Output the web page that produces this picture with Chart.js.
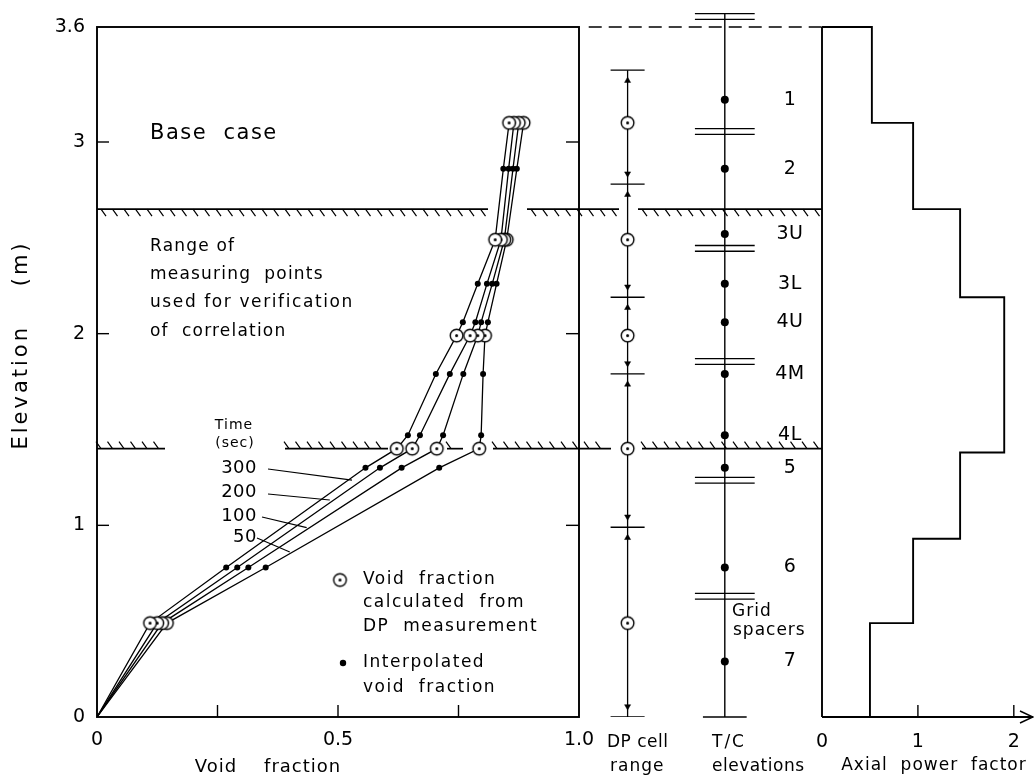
<!DOCTYPE html>
<html>
<head>
<meta charset="utf-8">
<title>Void fraction profiles – base case</title>
<script src="https://cdn.jsdelivr.net/npm/chart.js@4.4.1/dist/chart.umd.min.js"></script>
<style>
  html, body { margin: 0; padding: 0; background: #fff; }
  #figure { position: relative; width: 1034px; height: 778px; }
  #figure canvas { position: absolute; left: 0; top: 0; }
</style>
</head>
<body>
<div id="figure">
  <canvas id="voidChart" width="1034" height="778"></canvas>
  <canvas id="columnChart" width="1034" height="778"></canvas>
  <canvas id="powerChart" width="1034" height="778"></canvas>
</div>
<script>
// ---------------- data ----------------
// DP-cell derived void fraction, at the DP cell mid-elevations (m)
const dpElevations = [0.49, 1.40, 1.99, 2.49, 3.10];
const dpVoid300 = [0.110, 0.622, 0.746, 0.826, 0.855];
const dpVoid200 = [0.125, 0.654, 0.774, 0.838, 0.865];
const dpVoid100 = [0.135, 0.705, 0.790, 0.845, 0.875];
const dpVoid50  = [0.145, 0.793, 0.805, 0.850, 0.885];

// interpolated void fraction at thermocouple elevations (m)
const interpElevations = [0.78, 1.30, 1.47, 1.79, 2.06, 2.26, 2.86];
const interpVoid300 = [0.268, 0.557, 0.645, 0.703, 0.759, 0.790, 0.843];
const interpVoid200 = [0.291, 0.587, 0.670, 0.732, 0.785, 0.809, 0.854];
const interpVoid100 = [0.314, 0.632, 0.718, 0.760, 0.797, 0.820, 0.863];
const interpVoid50  = [0.350, 0.710, 0.797, 0.801, 0.811, 0.829, 0.871];

const timeLabels = ['300', '200', '100', '50'];

// DP cell ranges (m)
const dpRangeBounds = [0, 0.99, 1.79, 2.19, 2.78, 3.375];

// thermocouple elevations (m) and names
const tcElevations = [3.22, 2.86, 2.52, 2.26, 2.06, 1.79, 1.47, 1.30, 0.78, 0.29];
const tcLabels = ['1', '2', '3U', '3L', '4U', '4M', '4L', '5', '6', '7'];

// grid spacer elevations (m)
const spacerElevations = [3.655, 3.055, 2.445, 1.855, 1.235, 0.63];

// axial power profile: step boundaries (m) and factor of each step
const powerBounds = [0, 0.49, 0.93, 1.38, 2.19, 2.65, 3.10, 3.60];
const powerFactors = [0.50, 0.95, 1.44, 1.90, 1.44, 0.95, 0.52];

// range of measuring points used for verification (m)
const rangeLimits = [1.40, 2.65];

// axis ticks
const elevationTicks = [0, 1, 2, 3, 3.6];
const voidTicks = [0, 0.5, 1.0];
const voidMinorTicks = [0.25, 0.5, 0.75];
const powerTicks = [0, 1, 2];

// ---------------- drawing helpers ----------------
const FONT = '"DejaVu Sans", "Liberation Sans", sans-serif';
const INK = '#000';
const TOP_PX = 27, BOTTOM_PX = 717;
const MAIN_LEFT = 97, MAIN_RIGHT = 579, POWER_LEFT = 822, POWER_RIGHT = 1033;

function drawText(ctx, str, x, y, size, align, spacing) {
  ctx.save();
  ctx.font = size + 'px ' + FONT;
  ctx.fillStyle = INK;
  ctx.textAlign = align || 'left';
  ctx.textBaseline = 'middle';
  if ('letterSpacing' in ctx) ctx.letterSpacing = (spacing || 0) + 'px';
  ctx.fillText(str, x, y);
  ctx.restore();
}

function line(ctx, x1, y1, x2, y2, w) {
  ctx.save();
  ctx.strokeStyle = INK;
  ctx.lineWidth = w || 1.2;
  ctx.beginPath();
  ctx.moveTo(x1, y1);
  ctx.lineTo(x2, y2);
  ctx.stroke();
  ctx.restore();
}

// open circle with a centre dot, used for the DP points
function makeCircleDot(r) {
  const size = Math.ceil(r * 2 + 4);
  const c = document.createElement('canvas');
  c.width = size; c.height = size;
  const g = c.getContext('2d');
  const m = size / 2;
  g.beginPath(); g.arc(m, m, r, 0, Math.PI * 2);
  g.fillStyle = '#fff'; g.fill();
  g.lineWidth = 1.4; g.strokeStyle = INK; g.stroke();
  g.beginPath(); g.arc(m, m, 1.5, 0, Math.PI * 2);
  g.fillStyle = INK; g.fill();
  return c;
}
const circleDot = makeCircleDot(6.3);

// hatched boundary line; marks below (upper limit) or above (lower limit)
function hatchLine(ctx, y, segments, below) {
  ctx.save();
  ctx.strokeStyle = INK;
  segments.forEach(function (seg) {
    const a = seg[0], b = seg[1];
    ctx.lineWidth = 1.7;
    ctx.beginPath(); ctx.moveTo(a, y); ctx.lineTo(b, y); ctx.stroke();
    ctx.lineWidth = 1.2;
    ctx.beginPath();
    for (let x = a + 4; x <= b - 1; x += 11.5) {
      if (below) { ctx.moveTo(x, y); ctx.lineTo(x + 5, y + 7); }
      else { ctx.moveTo(x - 5, y - 7); ctx.lineTo(x, y); }
    }
    ctx.stroke();
  });
  ctx.restore();
}

const hatchUpper = [[97, 488], [527, 619], [638, 822]];
const hatchLower = [[97, 165], [285, 388], [447, 463], [493, 611], [642, 822]];

// leader lines from the time labels to their curves (void, elevation)
const timeLabelPos = [
  { y: 468, from: [268, 469], to: [0.529, 1.236] },
  { y: 492, from: [268, 494], to: [0.483, 1.132] },
  { y: 516, from: [262, 517], to: [0.435, 0.988] },
  { y: 537, from: [257, 538], to: [0.400, 0.861] }
];

const baseFont = { family: FONT, size: 19 };
Chart.defaults.font.family = FONT;
Chart.defaults.color = INK;

// ---------------- void fraction panel ----------------
const series = [
  { dp: dpVoid300, interp: interpVoid300 },
  { dp: dpVoid200, interp: interpVoid200 },
  { dp: dpVoid100, interp: interpVoid100 },
  { dp: dpVoid50,  interp: interpVoid50 }
];

const voidDatasets = [];
series.forEach(function (s, k) {
  const dpPts = dpElevations.map(function (e, i) { return { x: s.dp[i], y: e }; });
  const inPts = interpElevations.map(function (e, i) { return { x: s.interp[i], y: e }; });
  const path = [{ x: 0, y: 0 }].concat(dpPts, inPts).sort(function (a, b) { return a.y - b.y; });
  voidDatasets.push({ label: timeLabels[k] + ' s', data: path, showLine: true,
    borderColor: INK, borderWidth: 1.3, pointRadius: 0, order: 3 });
  voidDatasets.push({ label: timeLabels[k] + ' s interpolated', data: inPts,
    pointRadius: 3, pointBackgroundColor: INK, pointBorderWidth: 0, order: 2 });
  voidDatasets.push({ label: timeLabels[k] + ' s DP', data: dpPts,
    pointStyle: circleDot, order: 1 });
});

const voidDecor = {
  id: 'voidDecor',
  afterDraw: function (chart) {
    const ctx = chart.ctx, a = chart.chartArea;
    const xs = chart.scales.x, ys = chart.scales.y;
    // frame
    ctx.save();
    ctx.strokeStyle = INK; ctx.lineWidth = 1.9;
    ctx.strokeRect(a.left, a.top, a.right - a.left, a.bottom - a.top);
    ctx.restore();
    // inward ticks
    [1, 2, 3].forEach(function (v) {
      const y = ys.getPixelForValue(v);
      line(ctx, a.left, y, a.left + 12, y, 1.4);
      line(ctx, a.right - 13, y, a.right, y, 1.4);
    });
    voidMinorTicks.forEach(function (v) {
      const x = xs.getPixelForValue(v);
      line(ctx, x, a.bottom, x, a.bottom - 12, 1.4);
    });
    // range of measuring points
    hatchLine(ctx, ys.getPixelForValue(rangeLimits[1]), hatchUpper, true);
    hatchLine(ctx, ys.getPixelForValue(rangeLimits[0]), hatchLower, false);

    // annotations
    drawText(ctx, 'Base  case', 150, 134, 21, 'left', 1.5);
    drawText(ctx, 'Range of', 150, 247, 17, 'left', 1.2);
    drawText(ctx, 'measuring  points', 150, 275, 17, 'left', 1.2);
    drawText(ctx, 'used for verification', 150, 303, 17, 'left', 1.6);
    drawText(ctx, 'of  correlation', 150, 332, 17, 'left', 1.2);

    drawText(ctx, 'Time', 234, 425, 14, 'center', 1);
    drawText(ctx, '(sec)', 235, 443, 14, 'center', 1);
    timeLabelPos.forEach(function (p, i) {
      drawText(ctx, timeLabels[i], 257, p.y, 18, 'right', 0.5);
      line(ctx, p.from[0], p.from[1], xs.getPixelForValue(p.to[0]), ys.getPixelForValue(p.to[1]), 1.1);
    });

    // key
    ctx.drawImage(circleDot, 340 - circleDot.width / 2, 580 - circleDot.height / 2);
    drawText(ctx, 'Void  fraction', 363, 580, 17, 'left', 1.5);
    drawText(ctx, 'calculated  from', 363, 603, 17, 'left', 1.5);
    drawText(ctx, 'DP  measurement', 363, 627, 17, 'left', 1.5);
    ctx.save();
    ctx.fillStyle = INK;
    ctx.beginPath(); ctx.arc(343, 663, 3.2, 0, Math.PI * 2); ctx.fill();
    ctx.restore();
    drawText(ctx, 'Interpolated', 363, 663, 17, 'left', 1.5);
    drawText(ctx, 'void  fraction', 363, 688, 17, 'left', 1.5);

    // axis titles
    ctx.save();
    ctx.translate(22, 345);
    ctx.rotate(-Math.PI / 2);
    drawText(ctx, 'Elevation    (m)', 0, 0, 21, 'center', 3);
    ctx.restore();
    drawText(ctx, 'Void    fraction', 268, 767, 18, 'center', 1);
  }
};

new Chart(document.getElementById('voidChart'), {
  type: 'scatter',
  data: { datasets: voidDatasets },
  options: {
    responsive: false,
    animation: false,
    events: [],
    layout: { padding: { left: 0, top: TOP_PX, right: 1034 - MAIN_RIGHT, bottom: 0 } },
    plugins: { legend: { display: false }, tooltip: { enabled: false } },
    scales: {
      x: {
        type: 'linear', min: 0, max: 1,
        grid: { display: false, drawTicks: false },
        border: { display: false },
        afterFit: function (s) { s.height = 778 - BOTTOM_PX; },
        afterBuildTicks: function (s) { s.ticks = voidTicks.map(function (v) { return { value: v }; }); },
        ticks: { padding: 12, font: baseFont, color: INK, maxRotation: 0, autoSkip: false,
          callback: function (v) { return v === 0 ? '0' : v.toFixed(1); } }
      },
      y: {
        type: 'linear', min: 0, max: 3.6,
        grid: { display: false, drawTicks: false },
        border: { display: false },
        afterFit: function (s) { s.width = MAIN_LEFT; },
        afterBuildTicks: function (s) { s.ticks = elevationTicks.map(function (v) { return { value: v }; }); },
        ticks: { padding: 12, font: baseFont, color: INK, autoSkip: false,
          callback: function (v) { return String(v); } }
      }
    }
  },
  plugins: [voidDecor]
});

// ---------------- DP cell range and T/C elevation columns ----------------
const dpX = 0.2, tcX = 0.6, tcLabelX = 0.868;

function segments(list) {
  // join separate horizontal segments with gaps between them
  const out = [];
  list.forEach(function (s, i) {
    if (i > 0) out.push({ x: s[0], y: null });
    out.push({ x: s[0], y: s[2] });
    out.push({ x: s[1], y: s[2] });
  });
  return out;
}

const dpMarks = dpRangeBounds.map(function (b) { return [dpX - 0.07, dpX + 0.07, b]; });
const arrowPts = [];
dpRangeBounds.forEach(function (b, i) {
  if (i > 0) arrowPts.push({ x: dpX, y: b - 0.055, down: false });
  if (i < dpRangeBounds.length - 1) arrowPts.push({ x: dpX, y: b + 0.055, down: true });
});
const spacerMarks = [];
spacerElevations.forEach(function (e) {
  spacerMarks.push([tcX - 0.123, tcX + 0.123, e + 0.015]);
  spacerMarks.push([tcX - 0.123, tcX + 0.123, e - 0.015]);
});

const columnDatasets = [
  { label: 'DP cell span', data: [{ x: dpX, y: 0 }, { x: dpX, y: dpRangeBounds[dpRangeBounds.length - 1] }],
    showLine: true, borderColor: INK, borderWidth: 1.3, pointRadius: 0, order: 5 },
  { label: 'DP cell limits', data: segments(dpMarks), showLine: true, spanGaps: false,
    borderColor: INK, borderWidth: 1.4, pointRadius: 0, order: 5 },
  { label: 'DP arrows', data: arrowPts, pointStyle: 'triangle', pointRadius: 3.5,
    pointBackgroundColor: INK, pointBorderColor: INK, pointBorderWidth: 0.5,
    pointRotation: function (c) { return c.raw && c.raw.down ? 180 : 0; }, order: 4 },
  { label: 'DP points', data: dpElevations.map(function (e) { return { x: dpX, y: e }; }),
    pointStyle: circleDot, order: 1 },
  { label: 'T/C string', data: [{ x: tcX, y: 0 }, { x: tcX, y: spacerElevations[0] + 0.015 }],
    showLine: true, borderColor: INK, borderWidth: 1.4, pointRadius: 0, clip: false, order: 5 },
  { label: 'T/C base', data: [{ x: tcX - 0.09, y: 0 }, { x: tcX + 0.09, y: 0 }],
    showLine: true, borderColor: INK, borderWidth: 1.4, pointRadius: 0, clip: false, order: 5 },
  { label: 'Grid spacers', data: segments(spacerMarks), showLine: true, spanGaps: false,
    borderColor: INK, borderWidth: 1.4, pointRadius: 0, clip: false, order: 5 },
  { label: 'T/C', data: tcElevations.map(function (e) { return { x: tcX, y: e }; }),
    pointRadius: 4, pointBackgroundColor: INK, pointBorderWidth: 0, order: 2 },
  { label: 'Top of heated length', data: [{ x: 0.04, y: 3.6 }, { x: 1, y: 3.6 }], showLine: true,
    borderColor: INK, borderWidth: 1.6, borderDash: [13, 7], pointRadius: 0, clip: false, order: 6 }
];

const columnDecor = {
  id: 'columnDecor',
  afterDraw: function (chart) {
    const ctx = chart.ctx, xs = chart.scales.x, ys = chart.scales.y;
    tcLabels.forEach(function (t, i) {
      drawText(ctx, t, xs.getPixelForValue(tcLabelX), ys.getPixelForValue(tcElevations[i]), 19, 'center', 0.5);
    });
    drawText(ctx, 'Grid', 732, 612, 17, 'left', 1);
    drawText(ctx, 'spacers', 733, 631, 17, 'left', 1);
    drawText(ctx, 'DP cell', 607, 743, 17, 'left', 0.5);
    drawText(ctx, 'range', 610, 767, 17, 'left', 1);
    drawText(ctx, 'T/C', 712, 743, 17, 'left', 2);
    drawText(ctx, 'elevations', 712, 767, 17, 'left', 0.5);
  }
};

new Chart(document.getElementById('columnChart'), {
  type: 'scatter',
  data: { datasets: columnDatasets },
  options: {
    responsive: false,
    animation: false,
    events: [],
    layout: { padding: { left: MAIN_RIGHT, top: TOP_PX, right: 1034 - POWER_LEFT, bottom: 778 - BOTTOM_PX } },
    plugins: { legend: { display: false }, tooltip: { enabled: false } },
    scales: {
      x: { type: 'linear', min: 0, max: 1, display: false },
      y: { type: 'linear', min: 0, max: 3.6, display: false }
    }
  },
  plugins: [columnDecor]
});

// ---------------- axial power factor panel ----------------
const powerPath = [];
powerFactors.forEach(function (f, i) {
  powerPath.push({ x: f, y: powerBounds[i] });
  powerPath.push({ x: f, y: powerBounds[i + 1] });
});
powerPath.push({ x: 0, y: powerBounds[powerBounds.length - 1] });

const powerDecor = {
  id: 'powerDecor',
  afterDraw: function (chart) {
    const ctx = chart.ctx, xs = chart.scales.x, ys = chart.scales.y, a = chart.chartArea;
    const x0 = xs.getPixelForValue(0), y0 = ys.getPixelForValue(0);
    line(ctx, x0, y0, x0, ys.getPixelForValue(3.6), 1.9);
    line(ctx, x0, y0, a.right, y0, 1.9);
    // arrow head at the end of the power axis
    ctx.save();
    ctx.strokeStyle = INK; ctx.lineWidth = 1.5;
    ctx.beginPath();
    ctx.moveTo(a.right - 13, y0 - 6); ctx.lineTo(a.right, y0); ctx.lineTo(a.right - 13, y0 + 6);
    ctx.stroke();
    ctx.restore();
    [1, 2].forEach(function (v) {
      const x = xs.getPixelForValue(v);
      line(ctx, x, y0, x, y0 - 12, 1.4);
    });
    drawText(ctx, 'Axial  power  factor', 934, 766, 17, 'center', 1);
  }
};

new Chart(document.getElementById('powerChart'), {
  type: 'scatter',
  data: { datasets: [
    { label: 'Axial power factor', data: powerPath, showLine: true,
      borderColor: INK, borderWidth: 1.9, pointRadius: 0, clip: false }
  ] },
  options: {
    responsive: false,
    animation: false,
    events: [],
    layout: { padding: { left: POWER_LEFT, top: TOP_PX, right: 1034 - POWER_RIGHT, bottom: 0 } },
    plugins: { legend: { display: false }, tooltip: { enabled: false } },
    scales: {
      x: {
        type: 'linear', min: 0, max: 2.2,
        grid: { display: false, drawTicks: false },
        border: { display: false },
        afterFit: function (s) { s.height = 778 - BOTTOM_PX; },
        afterBuildTicks: function (s) { s.ticks = powerTicks.map(function (v) { return { value: v }; }); },
        ticks: { padding: 14, font: baseFont, color: INK, maxRotation: 0, autoSkip: false,
          callback: function (v) { return String(v); } }
      },
      y: { type: 'linear', min: 0, max: 3.6, display: false }
    }
  },
  plugins: [powerDecor]
});
</script>
</body>
</html>
